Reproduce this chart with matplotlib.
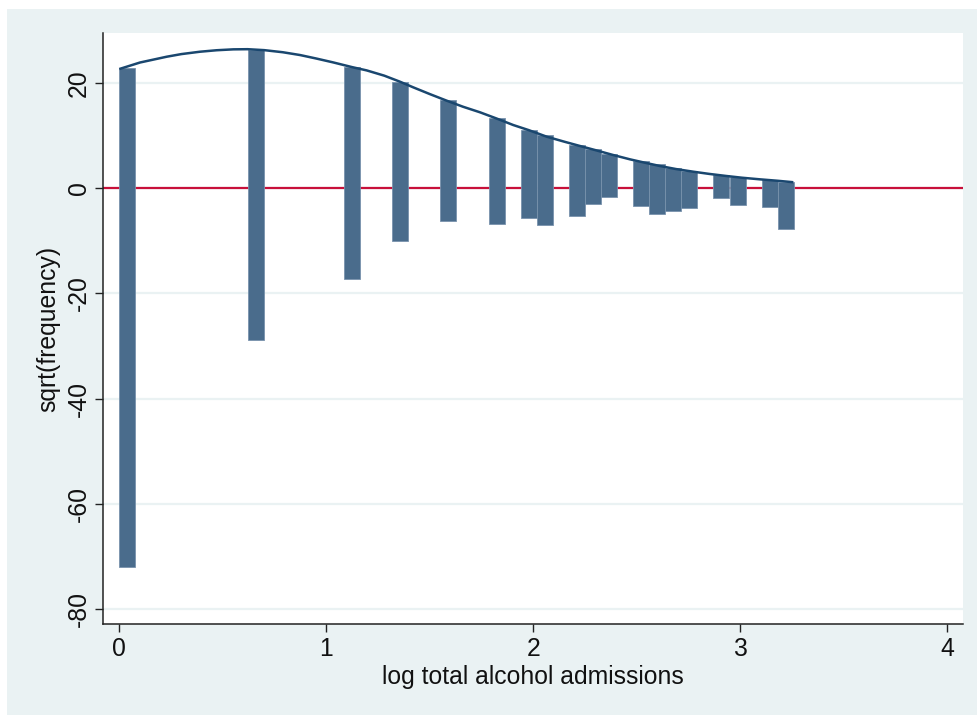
import matplotlib
matplotlib.use("Agg")
import matplotlib.pyplot as plt
from matplotlib.patches import Rectangle

# ---- data ----
bin_width = 0.07757
bin_left = [0.000, 0.621, 1.086, 1.319, 1.551, 1.784, 1.939, 2.017, 2.172,
            2.250, 2.327, 2.482, 2.560, 2.637, 2.715, 2.870, 2.948, 3.103, 3.180]
bar_top = [22.86, 26.22, 23.05, 20.20, 16.72, 13.24, 11.02, 10.07, 8.13,
           7.37, 6.52, 5.13, 4.50, 3.86, 3.29, 2.47, 2.03, 1.52, 1.20]
bar_bottom = [-72.1, -28.9, -17.29, -10.07, -6.21, -6.88, -5.64, -7.03, -5.23,
              -3.04, -1.65, -3.48, -5.00, -4.37, -3.86, -1.96, -3.23, -3.67, -7.73]

# fitted curve
curve_x = [0.000, 0.100, 0.229, 0.300, 0.390, 0.470, 0.551, 0.620, 0.700, 0.790,
           0.873, 0.950, 1.032, 1.124, 1.195, 1.280, 1.356, 1.420, 1.500, 1.582,
           1.660, 1.743, 1.823, 1.903, 1.978, 2.065, 2.150, 2.226, 2.300, 2.386,
           2.467, 2.540, 2.612, 2.690, 2.773, 2.850, 2.934, 3.010, 3.095, 3.180,
           3.256]
curve_y = [22.61, 23.85, 24.95, 25.45, 25.90, 26.18, 26.35, 26.38, 26.20, 25.80,
           25.27, 24.62, 23.88, 22.98, 22.35, 21.35, 20.20, 19.13, 17.85, 16.59,
           15.45, 14.38, 13.20, 11.97, 11.00, 9.75, 8.80, 7.98, 7.20, 6.27,
           5.45, 4.80, 4.18, 3.60, 3.10, 2.68, 2.28, 1.95, 1.65, 1.38,
           1.10]

x_ticks = [0, 1, 2, 3, 4]
y_ticks = [-80, -60, -40, -20, 0, 20]
x_label = "log total alcohol admissions"
y_label = "sqrt(frequency)"

# ---- styling ----
plt.rcParams['font.family'] = ['Liberation Sans', 'DejaVu Sans']
W, H = 977, 715
fig = plt.figure(figsize=(W / 100, H / 100), dpi=100, facecolor='white')
bg = '#EAF2F3'
fig.patches.append(Rectangle((7 / W, 0), 1 - 7 / W, 1 - 9 / H, transform=fig.transFigure,
                             facecolor=bg, edgecolor='none', zorder=-10))

ax = fig.add_axes([103.3 / W, 1 - 624.3 / H, (963.3 - 103.3) / W, (624.3 - 33.3) / H])
ax.set_facecolor('white')
ax.set_xlim(-0.0773, 4.077)
ax.set_ylim(-82.9, 29.4)

for yt in y_ticks:
    ax.axhline(yt, color=bg, lw=1.6, zorder=0)

ax.axhline(0, color='#C8103A', lw=1.6, zorder=1)

heights = [t - b for t, b in zip(bar_top, bar_bottom)]
ax.bar(bin_left, heights, width=bin_width, bottom=bar_bottom, align='edge',
       color='#4A6C8C', edgecolor='#7892AC', linewidth=0.6, zorder=2)

ax.plot(curve_x, curve_y, color='#1A476F', lw=1.8, zorder=3,
        solid_capstyle='butt', solid_joinstyle='round')

for s in ['top', 'right']:
    ax.spines[s].set_visible(False)
for s in ['left', 'bottom']:
    ax.spines[s].set_color('#222222')
    ax.spines[s].set_linewidth(1.1)

fs = 17.8
ax.set_xticks(x_ticks)
ax.set_yticks(y_ticks)
ax.set_xticklabels([str(v) for v in x_ticks])
ax.set_yticklabels([str(v) for v in y_ticks], rotation=90, va='center')
ax.tick_params(axis='both', direction='out', length=6, width=1.0, color='#222222',
               labelsize=fs, labelcolor='#111111')
ax.tick_params(axis='x', pad=3)
ax.tick_params(axis='y', pad=3)

ax.set_xlabel(x_label, fontsize=fs, color='#111111', labelpad=3)
ax.set_ylabel(y_label, fontsize=fs, color='#111111', labelpad=5)

fig.savefig('out.png', dpi=100, facecolor='white')
